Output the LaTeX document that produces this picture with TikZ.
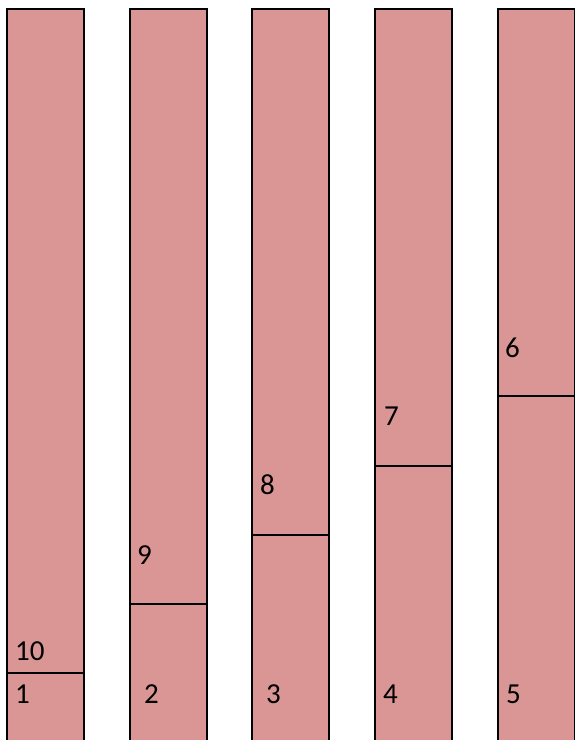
\documentclass[tikz,border=0pt]{standalone}
\usepackage{fontspec}
\setmainfont{Carlito}
\definecolor{barfill}{HTML}{D99694}
\begin{document}
\begin{tikzpicture}[x=1pt,y=-1pt,
  bar/.style={draw=black,line width=2pt,fill=barfill},
  divline/.style={draw=black,line width=2pt},
  lbl/.style={anchor=base west,inner sep=0pt,font=\fontsize{29}{34}\selectfont}]
\useasboundingbox (0,0) rectangle (575,740);
\foreach \x/\d/\ub/\ux/\ut/\lx/\lt [count=\i] in
  {7/673/660/15/10/15/1, 130/604/564/137/9/144/2, 252/535/494/260/8/266/3,
   375/466/425/384/7/383/4, 498/396/357/505/6/506/5}{
  \draw[bar] (\x,9) rectangle (\x+77,750);
  \coordinate (dl\i) at (\x,\d);
  \coordinate (dr\i) at (\x+77,\d);
  \draw[divline] (dl\i) -- (dr\i);
  \node[lbl] (up\i) at (\ux,\ub) {\ut};
  \node[lbl] (lo\i) at (\lx,703) {\lt};
}
\end{tikzpicture}
\end{document}
